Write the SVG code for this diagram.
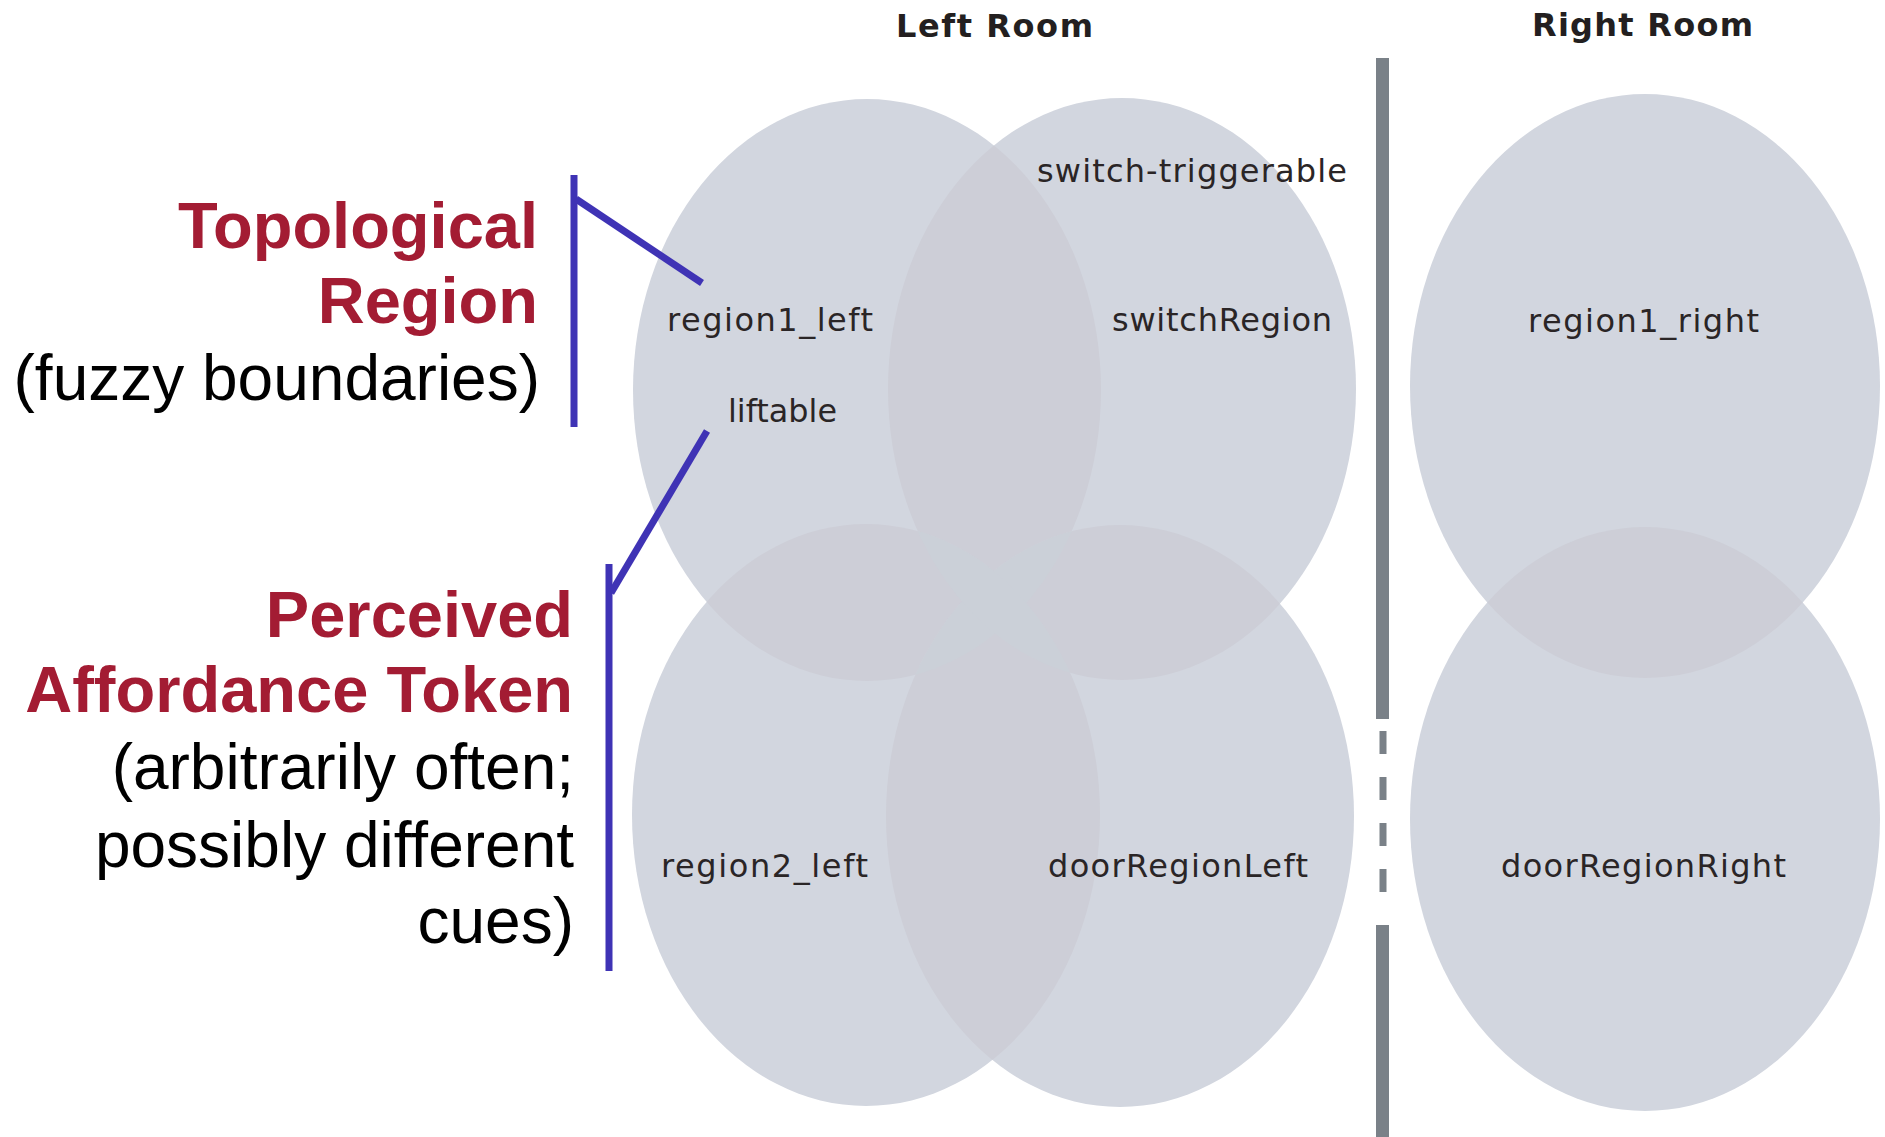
<svg xmlns="http://www.w3.org/2000/svg" width="1885" height="1137" viewBox="0 0 1885 1137">
  <style>
    .region { fill: #d2d6df; }
    .dbl { fill: #cdced7; }
    .xov { fill: #cbd0d8; }
    .lbl { font-family: "DejaVu Sans", Verdana, sans-serif; font-size: 32px; fill: #2a2526; }
    .room { font-family: "DejaVu Sans", Verdana, sans-serif; font-size: 32px; font-weight: bold; fill: #231f20; }
    .ann-b { font-family: "Liberation Sans", Arial, sans-serif; font-size: 65px; font-weight: bold; fill: #a31c33; text-anchor: end; }
    .ann { font-family: "Liberation Sans", Arial, sans-serif; font-size: 64px; fill: #000000; text-anchor: end; }
    .wall { fill: #7a8188; }
    .link { stroke: #3f33b5; stroke-width: 7; fill: none; }
  </style>
  <defs>
    <clipPath id="cA"><ellipse cx="867" cy="390" rx="234" ry="291"/></clipPath>
    <clipPath id="cB"><ellipse cx="1122" cy="389" rx="234" ry="291"/></clipPath>
    <clipPath id="cC"><ellipse cx="866" cy="815" rx="234" ry="291"/></clipPath>
    <clipPath id="cD"><ellipse cx="1120" cy="816" rx="234" ry="291"/></clipPath>
    <clipPath id="cR1"><ellipse cx="1645" cy="386" rx="235" ry="292"/></clipPath>
  </defs>
  <rect width="1885" height="1137" fill="#ffffff"/>

  <text class="room" x="896" y="37" textLength="197" lengthAdjust="spacing">Left Room</text>
  <text class="room" x="1532" y="36" textLength="221" lengthAdjust="spacing">Right Room</text>

  <g id="wall">
    <rect class="wall" x="1376" y="58" width="13" height="661"/>
    <rect class="wall" x="1379.5" y="731" width="7" height="23"/>
    <rect class="wall" x="1379.5" y="777" width="7" height="23"/>
    <rect class="wall" x="1379.5" y="823" width="7" height="23"/>
    <rect class="wall" x="1379.5" y="869" width="7" height="23"/>
    <rect class="wall" x="1376" y="925" width="13" height="212"/>
  </g>

  <g id="region1_left">
    <ellipse class="region" cx="867" cy="390" rx="234" ry="291"/>
    <text class="lbl" x="667" y="331" textLength="206" lengthAdjust="spacing">region1_left</text>
    <text class="lbl" x="728" y="422" textLength="109" lengthAdjust="spacingAndGlyphs">liftable</text>
  </g>

  <g id="switchRegion">
    <ellipse class="region" cx="1122" cy="389" rx="234" ry="291"/>
    <g clip-path="url(#cA)"><ellipse class="dbl" cx="1122" cy="389" rx="234" ry="291"/></g>
    <text class="lbl" x="1037" y="182" textLength="310" lengthAdjust="spacing">switch-triggerable</text>
    <text class="lbl" x="1112" y="331" textLength="220" lengthAdjust="spacing">switchRegion</text>
  </g>

  <g id="region2_left">
    <ellipse class="region" cx="866" cy="815" rx="234" ry="291"/>
    <g clip-path="url(#cA)"><ellipse class="dbl" cx="866" cy="815" rx="234" ry="291"/></g>
    <g clip-path="url(#cB)"><ellipse class="xov" cx="866" cy="815" rx="234" ry="291"/></g>
    <text class="lbl" x="661" y="877" textLength="207" lengthAdjust="spacing">region2_left</text>
  </g>

  <g id="doorRegionLeft">
    <ellipse class="region" cx="1120" cy="816" rx="234" ry="291"/>
    <g clip-path="url(#cB)"><ellipse class="dbl" cx="1120" cy="816" rx="234" ry="291"/></g>
    <g clip-path="url(#cC)"><ellipse class="dbl" cx="1120" cy="816" rx="234" ry="291"/></g>
    <g clip-path="url(#cA)"><ellipse class="xov" cx="1120" cy="816" rx="234" ry="291"/></g>
    <g clip-path="url(#cB)"><ellipse class="xov" cx="866" cy="815" rx="234" ry="291"/></g>
    <text class="lbl" x="1048" y="877" textLength="260" lengthAdjust="spacing">doorRegionLeft</text>
  </g>

  <g id="region1_right">
    <ellipse class="region" cx="1645" cy="386" rx="235" ry="292"/>
    <text class="lbl" x="1528" y="332" textLength="231" lengthAdjust="spacing">region1_right</text>
  </g>

  <g id="doorRegionRight">
    <ellipse class="region" cx="1645" cy="819" rx="235" ry="292"/>
    <g clip-path="url(#cR1)"><ellipse class="dbl" cx="1645" cy="819" rx="235" ry="292"/></g>
    <text class="lbl" x="1501" y="877" textLength="285" lengthAdjust="spacing">doorRegionRight</text>
  </g>

  <g id="topological-region">
    <text class="ann-b" x="538" y="248">Topological</text>
    <text class="ann-b" x="538" y="323">Region</text>
    <text class="ann" x="540" y="400">(fuzzy boundaries)</text>
  </g>

  <g id="perceived-affordance-token">
    <text class="ann-b" x="573" y="637">Perceived</text>
    <text class="ann-b" x="573" y="712">Affordance Token</text>
    <text class="ann" x="574" y="789">(arbitrarily often;</text>
    <text class="ann" x="574" y="867">possibly different</text>
    <text class="ann" x="574" y="943">cues)</text>
  </g>

  <g id="connectors">
    <line class="link" x1="574" y1="175" x2="574" y2="427"/>
    <line class="link" x1="576" y1="199" x2="702" y2="283"/>
    <line class="link" x1="609" y1="564" x2="609" y2="971"/>
    <line class="link" x1="611" y1="593" x2="707" y2="431"/>
  </g>
</svg>
